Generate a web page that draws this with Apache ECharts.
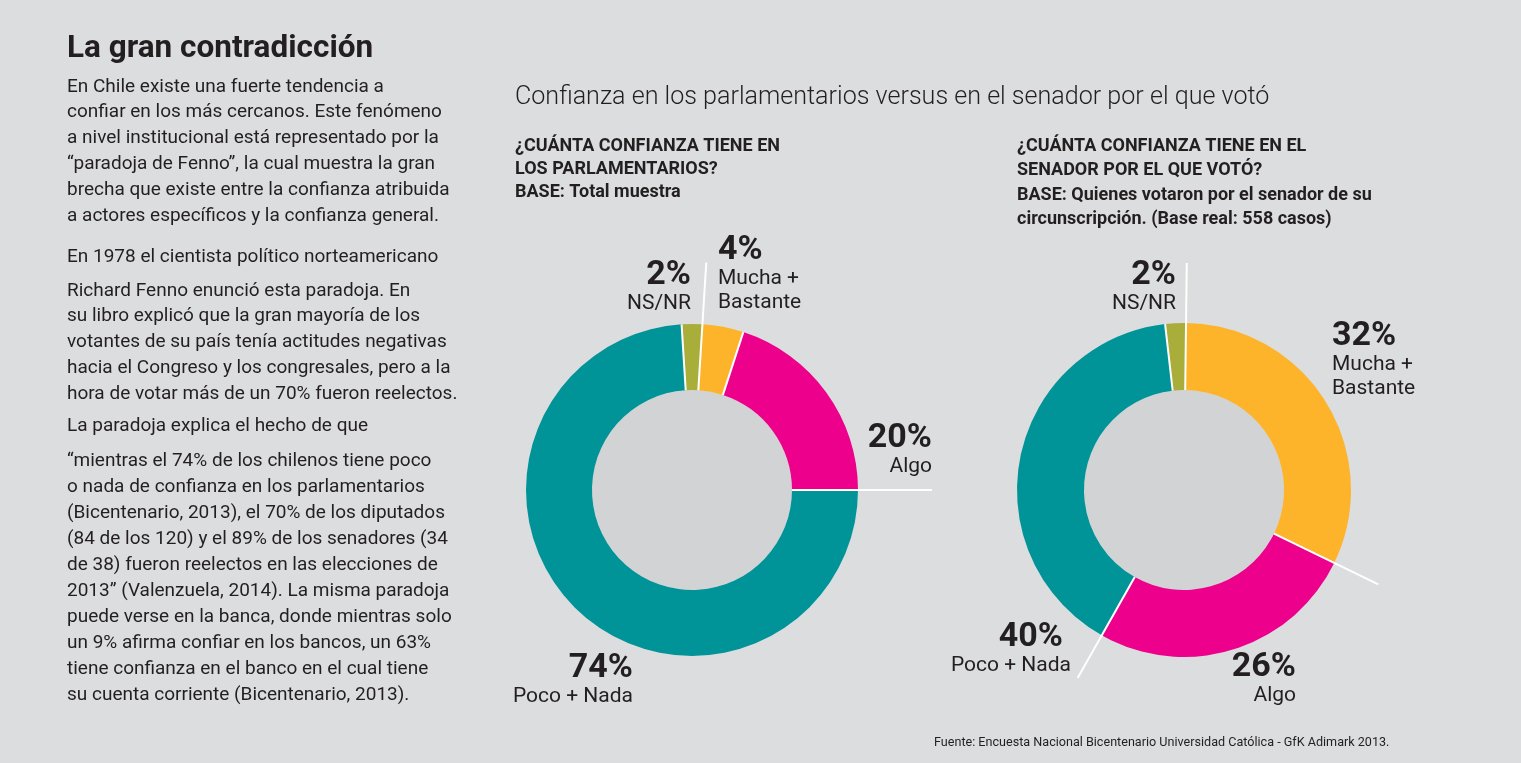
<!DOCTYPE html>
<html><head><meta charset="utf-8">
<script src="https://cdn.jsdelivr.net/npm/echarts@6/dist/echarts.min.js"></script>
<style>html,body{margin:0;padding:0;background:#dcddde;}#c{width:1521px;height:763px;}</style>
</head><body><div id="c"></div>
<script>
// ---- data ----
const categories = ['Mucha +\nBastante', 'Algo', 'Poco + Nada', 'NS/NR'];
const parlamentarios = [4, 20, 74, 2];
const senador = [32, 26, 40, 2];
const colors = ['#fdb42a', '#ec008c', '#009499', '#a9ae3b'];

const title = 'La gran contradicción';
const bodyLines = [
  'En Chile existe una fuerte tendencia a',
  'confiar en los más cercanos. Este fenómeno',
  'a nivel institucional está representado por la',
  '“paradoja de Fenno”, la cual muestra la gran',
  'brecha que existe entre la confianza atribuida',
  'a actores específicos y la confianza general.',
  'En 1978 el cientista político norteamericano',
  'Richard Fenno enunció esta paradoja. En',
  'su libro explicó que la gran mayoría de los',
  'votantes de su país tenía actitudes negativas',
  'hacia el Congreso y los congresales, pero a la',
  'hora de votar más de un 70% fueron reelectos.',
  'La paradoja explica el hecho de que',
  '“mientras el 74% de los chilenos tiene poco',
  'o nada de confianza en los parlamentarios',
  '(Bicentenario, 2013), el 70% de los diputados',
  '(84 de los 120) y el 89% de los senadores (34',
  'de 38) fueron reelectos en las elecciones de',
  '2013” (Valenzuela, 2014). La misma paradoja',
  'puede verse en la banca, donde mientras solo',
  'un 9% afirma confiar en los bancos, un 63%',
  'tiene confianza en el banco en el cual tiene',
  'su cuenta corriente (Bicentenario, 2013).'
];
const subtitle = 'Confianza en los parlamentarios versus en el senador por el que votó';
const headLeft = ['¿CUÁNTA CONFIANZA TIENE EN', 'LOS PARLAMENTARIOS?', 'BASE: Total muestra'];
const headRight = ['¿CUÁNTA CONFIANZA TIENE EN EL', 'SENADOR POR EL QUE VOTÓ?', 'BASE: Quienes votaron por el senador de su', 'circunscripción. (Base real: 558 casos)'];
const source = 'Fuente: Encuesta Nacional Bicentenario Universidad Católica - GfK Adimark 2013.';

// ---- layout ----
const FONT = 'Roboto, "Noto Sans", sans-serif';
const INK = '#231f20';
const bodyY = [87,112,138,164,190,216,257,291,316,342,368,394,426,461,487,513,539,565,591,617,643,669,695];
const headLeftY = [146,169,192];
const headRightY = [146,170,195,219];

const charts = [
  { data: parlamentarios, center: [692, 490], inner: 100, outer: 166, start: 86.4,
    ext: [228, 166, 240, 166],
    labels: [[718,233,'left'],[932,421,'right'],[633,651,'right'],[691,258,'right']],
    pad: [0, 0, 0, 0] },
  { data: senador, center: [1184, 490], inner: 100, outer: 167, start: 89.3,
    ext: [227, 216, 216, 167],
    labels: [[1332,319,'left'],[1296,650,'right'],[1071,620,'right'],[1176,258,'right']],
    pad: [0, 0, 8, 0] }
];

const txt = (t, x, y, font) => ({ type: 'text', style: { text: t, x, y, font, fill: INK, align: 'left', verticalAlign: 'middle', textAlign: 'left', textVerticalAlign: 'middle' } });
const graphic = [];
graphic.push(txt(title, 67, 49, 'bold 31.5px ' + FONT));
bodyLines.forEach((t, i) => graphic.push(txt(t, 67, bodyY[i], '19px ' + FONT)));
graphic.push(txt(subtitle, 515, 98, '300 25.1px ' + FONT));
headLeft.forEach((t, i) => graphic.push(txt(t, 515, headLeftY[i], 'bold 18px ' + FONT)));
headRight.forEach((t, i) => graphic.push(txt(t, 1017, headRightY[i], 'bold 18px ' + FONT)));
graphic.push(txt(source, 934, 743, '12.6px ' + FONT));

const polar = [], angleAxis = [], radiusAxis = [], series = [];
charts.forEach((c, ci) => {
  polar.push({ center: c.center, radius: 250 });
  angleAxis.push({ polarIndex: ci, type: 'value', min: 0, max: 100, startAngle: c.start, clockwise: true,
    axisLine: { show: false }, axisTick: { show: false }, axisLabel: { show: false }, splitLine: { show: false } });
  radiusAxis.push({ polarIndex: ci, type: 'value', min: 0, max: 250,
    axisLine: { show: false }, axisTick: { show: false }, axisLabel: { show: false }, splitLine: { show: false } });
  // inner disc
  series.push({ type: 'pie', center: c.center, radius: [0, c.inner], silent: true, label: { show: false }, labelLine: { show: false },
    data: [{ value: 1, itemStyle: { color: '#d2d3d5' } }], emphasis: { disabled: true }, z: 1 });
  // donut
  series.push({
    type: 'pie', center: c.center, radius: [c.inner, c.outer], startAngle: c.start, clockwise: true,
    avoidLabelOverlap: false, silent: true, emphasis: { disabled: true }, z: 2,
    itemStyle: { borderWidth: 0 },
    data: c.data.map((v, i) => ({ value: v, name: categories[i], itemStyle: { color: colors[i] } })),
    label: {
      show: true, position: 'outside', color: INK,
      formatter: p => '{p' + p.dataIndex + '|' + p.value + '%}\n{n|' + p.name + '}',
      rich: Object.assign({
        n: { fontFamily: FONT, fontSize: 21, lineHeight: 24, color: INK }
      }, ...c.pad.map((pd, i) => ({ ['p' + i]: { fontFamily: FONT, fontWeight: 'bold', fontSize: 34, lineHeight: 34, color: INK, padding: [0, pd, 0, 0] } })))
    },
    labelLine: { show: false },
    labelLayout: p => { const l = c.labels[p.dataIndex]; return { x: l[0], y: l[1], align: l[2], verticalAlign: 'top', hideOverlap: false }; }
  });
  // separators at slice boundaries
  let cum = 0;
  c.data.forEach((v, i) => {
    series.push({ type: 'line', coordinateSystem: 'polar', polarIndex: ci, silent: true, symbol: 'none', z: 5,
      lineStyle: { color: '#ffffff', width: 2 }, animation: false,
      data: [[c.inner, cum], [c.ext[i], cum]] });
    cum += v;
  });
});

const chart = echarts.init(document.getElementById('c'), null, { renderer: 'canvas' });
chart.setOption({
  backgroundColor: '#dcddde',
  animation: false,
  polar, angleAxis, radiusAxis, series, graphic
});
</script>
</body></html>
